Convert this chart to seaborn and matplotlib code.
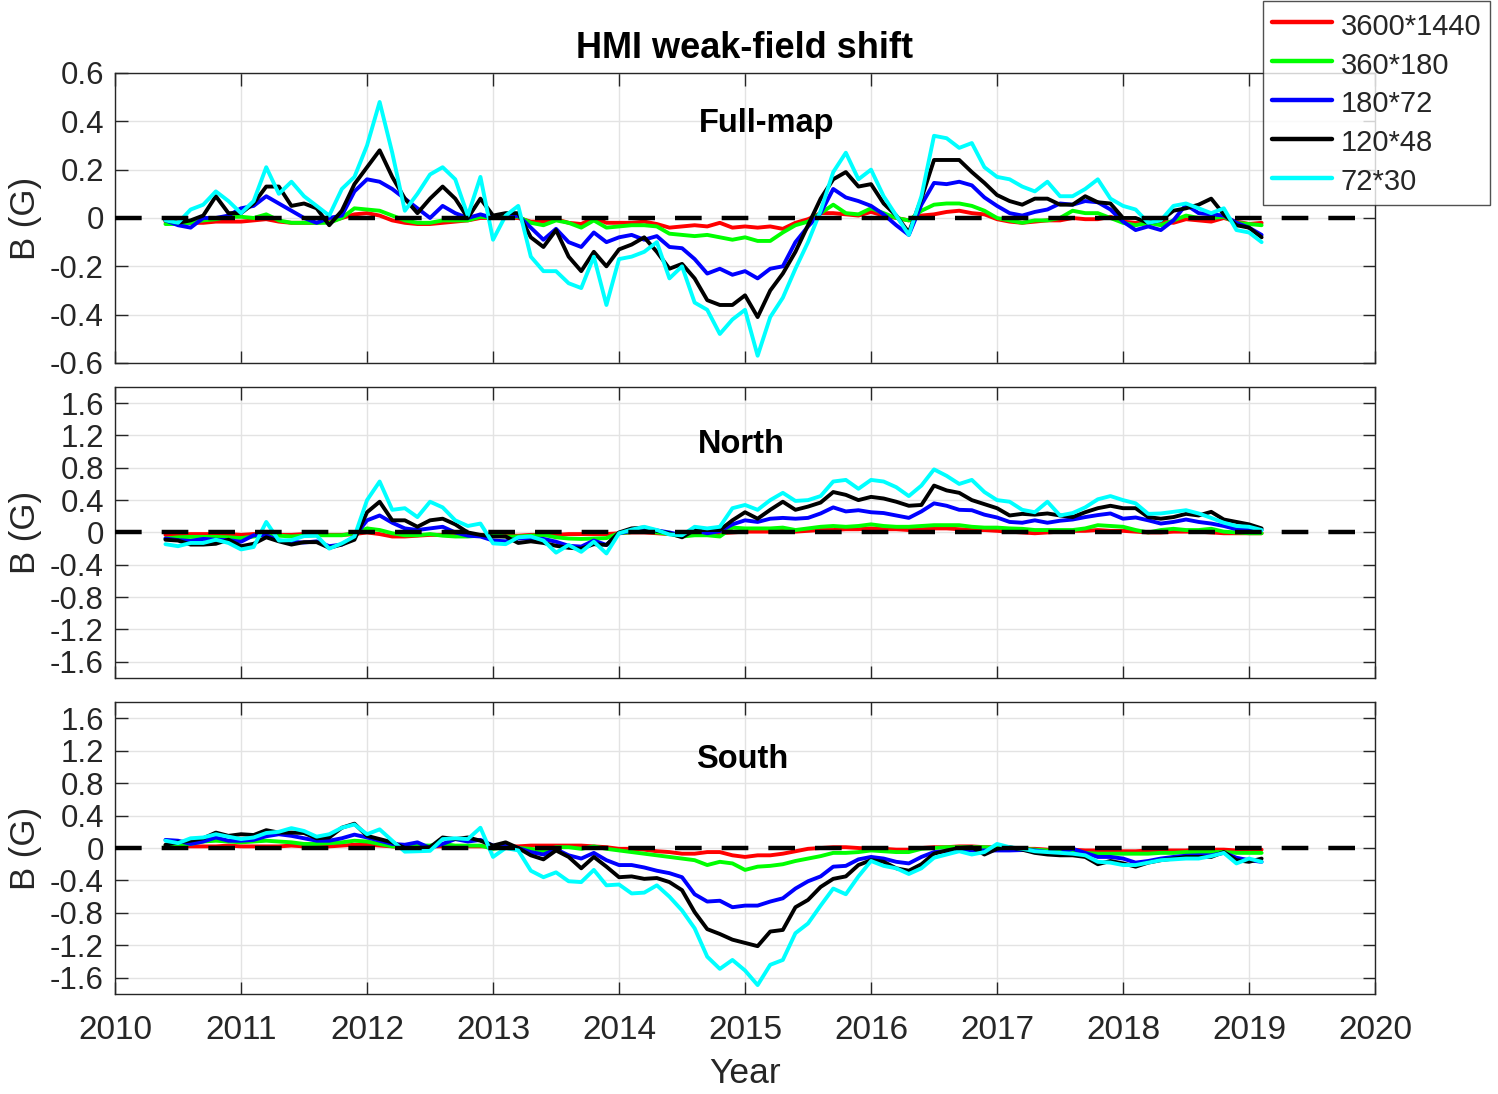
import numpy as np
import pandas as pd
import matplotlib
matplotlib.use("Agg")
import matplotlib.pyplot as plt
import seaborn as sns

# ---------------- data ----------------
years = np.round(2010.4 + 0.1 * np.arange(88), 2)
series_names = ["3600*1440", "360*180", "180*72", "120*48", "72*30"]
series_colors = ["#ff0000", "#00ff00", "#0000ff", "#000000", "#00ffff"]
panel_names = ["Full-map", "North", "South"]

full_3600 = [-0.015, -0.02, -0.02, -0.02, -0.015, -0.015,
             -0.015, -0.01, -0.005, -0.015, -0.02, -0.02, -0.02, -0.015, 0.0, 0.015,
             0.02, 0.01, -0.01, -0.02, -0.025, -0.025, -0.02, -0.015, -0.01, 0.0,
             0.0, 0.0, 0.0, -0.015, -0.015, -0.005, -0.02, -0.025, 0.0, -0.02,
             -0.02, -0.02, -0.015, -0.025, -0.04, -0.035, -0.03, -0.035, -0.02, -0.04,
             -0.035, -0.04, -0.035, -0.045, -0.02, -0.005, 0.02, 0.02, 0.015, 0.01,
             0.025, 0.01, 0.0, -0.01, 0.01, 0.015, 0.025, 0.03, 0.02, 0.015,
             -0.005, -0.015, -0.02, -0.015, -0.01, -0.01, 0.0, -0.005, -0.005, 0.005,
             -0.015, -0.02, -0.025, -0.015, -0.02, -0.005, -0.01, -0.015, 0.0, -0.015,
             -0.025, -0.02]
full_360 = [-0.025, -0.025, -0.02, -0.01, -0.005, 0.005,
            0.005, 0.0, 0.015, -0.01, -0.02, -0.02, -0.02, -0.02, 0.0, 0.04,
            0.035, 0.03, 0.01, -0.01, -0.02, -0.02, -0.01, -0.01, -0.01, 0.005,
            0.0, 0.005, 0.005, -0.02, -0.03, -0.01, -0.02, -0.04, -0.01, -0.04,
            -0.035, -0.03, -0.03, -0.035, -0.065, -0.07, -0.075, -0.07, -0.08, -0.09,
            -0.08, -0.095, -0.095, -0.06, -0.03, -0.015, 0.02, 0.055, 0.02, 0.015,
            0.04, 0.02, 0.0, -0.01, 0.03, 0.055, 0.06, 0.06, 0.05, 0.03,
            0.0, -0.01, -0.02, -0.01, -0.01, 0.0, 0.03, 0.02, 0.02, 0.0,
            -0.02, -0.03, -0.02, -0.03, -0.01, 0.01, 0.0, 0.0, 0.005, -0.02,
            -0.025, -0.03]
full_180 = [-0.01, -0.03, -0.04, 0.0, 0.0, 0.01,
            0.04, 0.05, 0.09, 0.06, 0.03, 0.0, -0.02, 0.0, 0.01, 0.11,
            0.16, 0.15, 0.12, 0.08, 0.04, 0.0, 0.05, 0.02, 0.0, 0.015,
            0.0, 0.0, 0.01, -0.04, -0.09, -0.045, -0.10, -0.12, -0.06, -0.10,
            -0.08, -0.07, -0.09, -0.075, -0.12, -0.125, -0.17, -0.23, -0.21, -0.235,
            -0.22, -0.25, -0.21, -0.20, -0.10, -0.035, 0.02, 0.12, 0.085, 0.07,
            0.05, 0.015, -0.03, -0.07, 0.055, 0.145, 0.14, 0.15, 0.135, 0.085,
            0.05, 0.02, 0.01, 0.025, 0.035, 0.06, 0.055, 0.07, 0.065, 0.035,
            -0.015, -0.05, -0.035, -0.05, -0.01, 0.055, 0.02, 0.015, 0.01, -0.02,
            -0.04, -0.07]
full_120 = [-0.01, -0.02, -0.01, 0.01, 0.09, 0.02,
            0.02, 0.06, 0.13, 0.13, 0.05, 0.06, 0.04, -0.03, 0.03, 0.14,
            0.21, 0.28, 0.17, 0.08, 0.02, 0.08, 0.13, 0.08, 0.0, 0.08,
            0.01, 0.02, 0.02, -0.08, -0.12, -0.05, -0.16, -0.22, -0.14, -0.20,
            -0.13, -0.11, -0.08, -0.14, -0.21, -0.19, -0.25, -0.34, -0.36, -0.36,
            -0.32, -0.41, -0.30, -0.23, -0.14, -0.03, 0.08, 0.16, 0.19, 0.13,
            0.14, 0.06, 0.01, -0.06, 0.08, 0.24, 0.24, 0.24, 0.19, 0.145,
            0.095, 0.07, 0.055, 0.08, 0.08, 0.055, 0.055, 0.09, 0.065, 0.06,
            0.0, 0.0, -0.02, -0.01, 0.03, 0.04, 0.055, 0.08, 0.015, -0.03,
            -0.04, -0.08]
full_72 = [-0.01, -0.02, 0.035, 0.055, 0.11, 0.07,
           0.02, 0.07, 0.21, 0.10, 0.15, 0.09, 0.05, 0.01, 0.12, 0.17,
           0.30, 0.48, 0.27, 0.03, 0.10, 0.18, 0.21, 0.16, 0.01, 0.17,
           -0.09, 0.01, 0.05, -0.16, -0.22, -0.22, -0.27, -0.29, -0.16, -0.36,
           -0.17, -0.16, -0.14, -0.10, -0.25, -0.20, -0.35, -0.38, -0.48, -0.42,
           -0.38, -0.57, -0.41, -0.33, -0.21, -0.10, 0.03, 0.19, 0.27, 0.16,
           0.20, 0.09, 0.01, -0.07, 0.09, 0.34, 0.33, 0.29, 0.31, 0.21,
           0.17, 0.16, 0.13, 0.11, 0.15, 0.09, 0.09, 0.12, 0.16, 0.08,
           0.05, 0.035, -0.02, -0.01, 0.05, 0.06, 0.04, 0.02, 0.04, -0.05,
           -0.06, -0.10]

north_3600 = [-0.03, -0.03, -0.02, -0.02, -0.02, -0.02,
              -0.03, -0.02, -0.02, -0.03, -0.03, -0.02, -0.02, -0.03, -0.03, -0.02,
              0.0, -0.02, -0.05, -0.05, -0.04, -0.03, -0.03, -0.04, -0.04, -0.03,
              -0.03, -0.04, -0.04, -0.03, -0.03, -0.03, -0.02, -0.02, -0.02, -0.02,
              -0.01, 0.0, 0.0, -0.01, -0.02, -0.02, -0.01, -0.01, -0.01, 0.0,
              0.01, 0.01, 0.01, 0.02, 0.01, 0.02, 0.03, 0.03, 0.04, 0.04,
              0.05, 0.04, 0.04, 0.03, 0.04, 0.05, 0.05, 0.04, 0.03, 0.03,
              0.02, 0.01, 0.0, -0.01, 0.0, 0.01, 0.02, 0.02, 0.03, 0.02,
              0.02, 0.01, 0.0, 0.0, 0.01, 0.01, 0.01, 0.0, -0.01, -0.01,
              -0.01, -0.01]
north_360 = [-0.075, -0.06, -0.055, -0.055, -0.055, -0.06,
             -0.07, -0.05, -0.03, -0.04, -0.05, -0.04, -0.035, -0.035, -0.035, -0.01,
             0.05, 0.03, -0.01, -0.035, -0.035, -0.02, -0.04, -0.05, -0.05, -0.04,
             -0.035, -0.05, -0.05, -0.04, -0.03, -0.06, -0.075, -0.08, -0.075, -0.07,
             -0.01, 0.005, 0.01, 0.0, -0.02, -0.05, -0.035, -0.035, -0.05, 0.06,
             0.05, 0.05, 0.05, 0.06, 0.03, 0.05, 0.07, 0.08, 0.07, 0.08,
             0.10, 0.08, 0.07, 0.07, 0.08, 0.09, 0.09, 0.09, 0.07, 0.06,
             0.06, 0.05, 0.045, 0.03, 0.03, 0.03, 0.03, 0.05, 0.09, 0.08,
             0.07, 0.03, 0.0, 0.03, 0.045, 0.03, 0.03, 0.045, 0.01, 0.0,
             -0.01, -0.01]
north_180 = [-0.075, -0.095, -0.105, -0.08, -0.09, -0.095,
             -0.115, -0.035, -0.035, -0.10, -0.115, -0.125, -0.11, -0.17, -0.15, -0.05,
             0.15, 0.21, 0.12, 0.05, 0.03, 0.05, 0.07, 0.0, -0.04, -0.05,
             -0.10, -0.11, -0.075, -0.075, -0.08, -0.115, -0.165, -0.175, -0.10, -0.155,
             -0.01, 0.02, 0.045, 0.025, 0.0, -0.035, 0.025, -0.01, 0.015, 0.10,
             0.15, 0.13, 0.17, 0.18, 0.17, 0.18, 0.235, 0.31, 0.26, 0.275,
             0.25, 0.24, 0.21, 0.18, 0.26, 0.36, 0.33, 0.28, 0.275, 0.22,
             0.185, 0.13, 0.12, 0.15, 0.12, 0.145, 0.16, 0.19, 0.215, 0.235,
             0.17, 0.185, 0.15, 0.11, 0.13, 0.16, 0.13, 0.11, 0.08, 0.04,
             0.03, 0.03]
north_120 = [-0.09, -0.10, -0.15, -0.15, -0.14, -0.09,
             -0.17, -0.14, -0.06, -0.11, -0.15, -0.12, -0.12, -0.19, -0.15, -0.09,
             0.25, 0.38, 0.15, 0.15, 0.07, 0.15, 0.17, 0.10, 0.0, -0.03,
             -0.05, -0.05, -0.13, -0.11, -0.13, -0.165, -0.19, -0.20, -0.145, -0.155,
             0.0, 0.05, 0.06, 0.02, -0.01, -0.06, 0.03, 0.03, 0.03, 0.15,
             0.25, 0.17, 0.28, 0.38, 0.28, 0.32, 0.37, 0.50, 0.465, 0.40,
             0.44, 0.42, 0.38, 0.33, 0.34, 0.58, 0.52, 0.49, 0.40, 0.35,
             0.30, 0.21, 0.23, 0.22, 0.235, 0.21, 0.19, 0.25, 0.30, 0.33,
             0.30, 0.30, 0.19, 0.17, 0.19, 0.23, 0.21, 0.255, 0.16, 0.13,
             0.10, 0.05]
north_72 = [-0.145, -0.17, -0.13, -0.13, -0.09, -0.13,
            -0.21, -0.18, 0.13, -0.10, -0.095, -0.045, -0.04, -0.20, -0.135, -0.05,
            0.40, 0.63, 0.28, 0.30, 0.19, 0.38, 0.31, 0.15, 0.08, 0.11,
            -0.135, -0.145, -0.06, -0.05, -0.10, -0.25, -0.155, -0.24, -0.115, -0.26,
            -0.01, 0.035, 0.07, 0.03, -0.025, -0.035, 0.07, 0.05, 0.07, 0.30,
            0.34, 0.28, 0.40, 0.49, 0.39, 0.40, 0.45, 0.63, 0.65, 0.54,
            0.65, 0.63, 0.56, 0.45, 0.58, 0.78, 0.70, 0.60, 0.65, 0.50,
            0.40, 0.38, 0.28, 0.25, 0.38, 0.21, 0.24, 0.31, 0.41, 0.45,
            0.40, 0.36, 0.23, 0.235, 0.255, 0.275, 0.235, 0.18, 0.12, 0.08,
            0.07, 0.03]

south_3600 = [0.02, 0.02, 0.02, 0.02, 0.02, 0.03,
              0.02, 0.02, 0.02, 0.02, 0.03, 0.02, 0.02, 0.02, 0.03, 0.04,
              0.04, 0.03, 0.02, 0.01, 0.01, 0.02, 0.02, 0.02, 0.02, 0.02,
              0.02, 0.02, 0.02, 0.03, 0.03, 0.03, 0.03, 0.03, 0.02, 0.01,
              -0.01, -0.01, -0.02, -0.04, -0.05, -0.07, -0.07, -0.05, -0.05, -0.09,
              -0.11, -0.09, -0.09, -0.07, -0.04, -0.01, 0.0, 0.01, 0.01, 0.0,
              -0.01, -0.01, -0.02, -0.02, 0.0, 0.01, 0.01, 0.02, 0.02, 0.01,
              0.01, 0.0, -0.01, -0.01, -0.02, -0.02, -0.02, -0.03, -0.03, -0.04,
              -0.04, -0.04, -0.03, -0.03, -0.03, -0.03, -0.02, -0.02, -0.02, -0.03,
              -0.03, -0.02]
south_360 = [0.03, 0.04, 0.05, 0.08, 0.09, 0.08,
             0.07, 0.08, 0.09, 0.08, 0.07, 0.05, 0.05, 0.06, 0.07, 0.09,
             0.08, 0.05, 0.02, 0.02, 0.03, 0.03, 0.05, 0.03, 0.03, 0.03,
             -0.01, 0.01, 0.0, -0.01, -0.04, 0.01, 0.01, -0.01, 0.02, -0.01,
             -0.03, -0.05, -0.07, -0.09, -0.11, -0.13, -0.15, -0.21, -0.17, -0.19,
             -0.27, -0.23, -0.22, -0.20, -0.16, -0.13, -0.10, -0.06, -0.06, -0.05,
             -0.03, -0.04, -0.05, -0.05, -0.01, 0.0, 0.01, 0.01, 0.01, 0.01,
             0.0, -0.01, -0.01, -0.02, -0.03, -0.03, -0.04, -0.06, -0.07, -0.07,
             -0.07, -0.07, -0.07, -0.06, -0.06, -0.05, -0.05, -0.05, -0.05, -0.06,
             -0.06, -0.06]
south_180 = [0.10, 0.09, 0.05, 0.08, 0.13, 0.09,
             0.09, 0.10, 0.145, 0.17, 0.15, 0.12, 0.09, 0.09, 0.12, 0.165,
             0.13, 0.09, 0.05, 0.04, 0.07, 0.0, 0.05, 0.11, 0.08, 0.10,
             0.03, 0.03, 0.0, -0.05, -0.08, -0.015, -0.09, -0.13, -0.06, -0.15,
             -0.21, -0.21, -0.24, -0.28, -0.31, -0.36, -0.57, -0.66, -0.65, -0.73,
             -0.71, -0.71, -0.66, -0.62, -0.50, -0.41, -0.35, -0.23, -0.22, -0.14,
             -0.11, -0.13, -0.17, -0.19, -0.11, -0.05, -0.04, -0.025, -0.03, -0.03,
             -0.03, -0.03, -0.025, -0.03, -0.05, -0.06, -0.01, -0.06, -0.11, -0.11,
             -0.13, -0.18, -0.16, -0.13, -0.11, -0.095, -0.09, -0.09, -0.06, -0.12,
             -0.15, -0.17]
south_120 = [0.04, 0.07, 0.09, 0.12, 0.19, 0.15,
             0.17, 0.16, 0.22, 0.19, 0.19, 0.185, 0.12, 0.13, 0.25, 0.30,
             0.15, 0.11, 0.07, 0.0, 0.0, 0.01, 0.13, 0.11, 0.13, 0.09,
             0.03, 0.07, 0.0, -0.09, -0.14, -0.03, -0.11, -0.25, -0.11, -0.23,
             -0.36, -0.35, -0.38, -0.37, -0.42, -0.52, -0.79, -1.00, -1.06, -1.13,
             -1.17, -1.21, -1.03, -1.01, -0.73, -0.64, -0.48, -0.38, -0.35, -0.21,
             -0.15, -0.17, -0.25, -0.28, -0.20, -0.07, -0.03, 0.0, 0.01, -0.08,
             -0.01, 0.01, -0.02, -0.06, -0.08, -0.09, -0.09, -0.11, -0.20, -0.16,
             -0.19, -0.23, -0.18, -0.15, -0.13, -0.11, -0.11, -0.11, -0.05, -0.15,
             -0.17, -0.13]
south_72 = [0.09, 0.06, 0.12, 0.13, 0.17, 0.14,
            0.11, 0.13, 0.185, 0.20, 0.245, 0.21, 0.14, 0.17, 0.25, 0.29,
            0.17, 0.23, 0.09, -0.045, -0.04, -0.035, 0.11, 0.12, 0.11, 0.25,
            -0.11, 0.0, -0.03, -0.28, -0.36, -0.30, -0.41, -0.42, -0.27, -0.46,
            -0.45, -0.56, -0.55, -0.46, -0.60, -0.77, -0.99, -1.34, -1.49, -1.38,
            -1.51, -1.69, -1.44, -1.38, -1.05, -0.93, -0.71, -0.50, -0.57, -0.35,
            -0.16, -0.22, -0.25, -0.32, -0.25, -0.12, -0.08, -0.04, -0.08, -0.05,
            0.05, 0.01, -0.01, -0.04, -0.05, -0.06, -0.07, -0.09, -0.17, -0.18,
            -0.21, -0.21, -0.18, -0.15, -0.14, -0.13, -0.13, -0.10, -0.06, -0.19,
            -0.13, -0.17]

panel_data = {
    "Full-map": [full_3600, full_360, full_180, full_120, full_72],
    "North": [north_3600, north_360, north_180, north_120, north_72],
    "South": [south_3600, south_360, south_180, south_120, south_72],
}

rows = []
for pname, lst in panel_data.items():
    for sname, vals in zip(series_names, lst):
        for t, v in zip(years, vals):
            rows.append((pname, sname, t, v))
df = pd.DataFrame(rows, columns=["panel", "res", "year", "B"])

# ---------------- style ----------------
sns.set_style("ticks")
plt.rcParams["font.family"] = ["Liberation Sans", "DejaVu Sans"]
plt.rcParams["axes.unicode_minus"] = False

dark = "#262626"
fig = plt.figure(figsize=(14.98, 10.94), dpi=100)
positions = [[0.0768, 0.6682, 0.8411, 0.2651],
             [0.0768, 0.3803, 0.8411, 0.2660],
             [0.0768, 0.0914, 0.8411, 0.2669]]
ylims = [(-0.6, 0.6), (-1.8, 1.8), (-1.8, 1.8)]
yticks = [np.round(np.arange(-0.6, 0.61, 0.2), 1), np.round(np.arange(-1.6, 1.61, 0.4), 1),
          np.round(np.arange(-1.6, 1.61, 0.4), 1)]
label_pos = [(2015.17, 0.39), (2014.97, 1.09), (2014.98, 1.09)]
palette = dict(zip(series_names, series_colors))

def fmt(v):
    return "0" if abs(v) < 1e-9 else f"{v:g}"

handles = labels = None
for i, pname in enumerate(panel_names):
    ax = fig.add_axes(positions[i])
    sub = df[df["panel"] == pname]
    sns.lineplot(data=sub, x="year", y="B", hue="res", hue_order=series_names,
                 palette=palette, linewidth=2.8, estimator=None, ax=ax,
                 legend=(i == 0))
    if i == 0:
        handles, labels = ax.get_legend_handles_labels()
        ax.get_legend().remove()
    ax.axhline(0, color="black", linewidth=3.2, dashes=(6, 4.5), zorder=5)
    ax.set_xlim(2010, 2020)
    ax.set_ylim(*ylims[i])
    ax.set_xticks(np.arange(2010, 2021, 1))
    ax.set_yticks(yticks[i])
    ax.set_yticklabels([fmt(v) for v in yticks[i]])
    if i < 2:
        ax.set_xticklabels([])
        ax.set_xlabel("")
    else:
        ax.set_xticklabels([str(y) for y in range(2010, 2021)])
        ax.set_xlabel("Year", fontsize=25.5, color=dark, labelpad=8)
    ax.set_ylabel("B (G)", fontsize=25, color=dark, labelpad=6)
    ax.grid(True, color="#e3e3e3", linewidth=1.0)
    ax.set_axisbelow(True)
    ax.tick_params(axis="both", which="both", direction="in", top=True, right=True,
                   length=9, width=1.0, color=dark, labelcolor=dark)
    ax.tick_params(axis="y", labelsize=22.5, pad=8)
    ax.tick_params(axis="x", labelsize=24, pad=15)
    for sp in ax.spines.values():
        sp.set_color(dark)
        sp.set_linewidth(1.0)
        sp.set_visible(True)
    ax.text(label_pos[i][0], label_pos[i][1], pname, ha="center", va="center",
            fontsize=23.5, fontweight="bold", color="black", zorder=6)

fig.text(745 / 1498, 1 - 48 / 1094, "HMI weak-field shift", ha="center", va="center",
         fontsize=26, fontweight="bold", color="black")

for h in handles:
    h.set_linewidth(3.2)
leg = fig.legend(handles, labels, loc="upper right", bbox_to_anchor=(1490 / 1498, 1 - 1 / 1094),
                 fontsize=21, frameon=True, fancybox=False, edgecolor=dark,
                 handlelength=2.05, handleheight=1.2, handletextpad=0.3,
                 labelspacing=0.28, borderpad=0.3, borderaxespad=0.0)
leg.get_frame().set_linewidth(1.0)
for t in leg.get_texts():
    t.set_color(dark)

fig.savefig("out.png", dpi=100, facecolor="white")
